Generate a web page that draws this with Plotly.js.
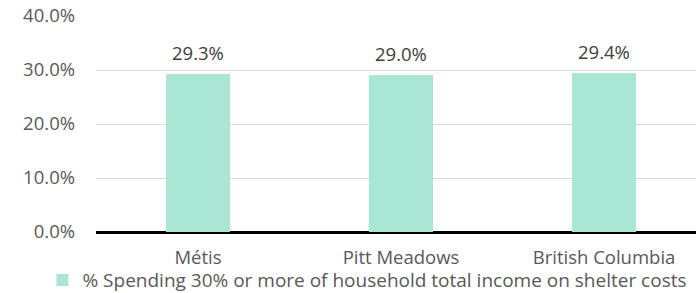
<!DOCTYPE html>
<html>
<head>
<meta charset="utf-8">
<script src="https://cdn.plot.ly/plotly-3.0.1.min.js"></script>
<style>html,body{margin:0;padding:0;background:#fff;}#chart{width:696px;height:293px;}</style>
</head>
<body>
<div id="chart"></div>
<script>
const categories = ["Métis", "Pitt Meadows", "British Columbia"];
const values = [29.3, 29.0, 29.4];
const seriesName = "% Spending 30% or more of household total income on shelter costs";
const yTickVals = [0, 10, 20, 30, 40];
const yTickText = ["0.0%", "10.0%", "20.0%", "30.0%", "40.0%"];

const fam = "'Open Sans', sans-serif";
const font = {family: fam, size: 18.5, color: "#595959"};

const trace = {
  type: "bar",
  x: [0, 1, 2],
  y: values,
  name: seriesName,
  width: 0.315,
  marker: {color: "#A9E6D3"},
  hoverinfo: "none"
};

const annotations = values.map((v, i) => ({
  x: i, y: v, xref: "x", yref: "y",
  text: v.toFixed(1) + "%",
  showarrow: false, yanchor: "bottom", yshift: 7,
  font: {family: fam, size: 18.5, color: "#404040"}
}));

const layout = {
  width: 696, height: 293,
  margin: {l: 96, r: 0, t: 16, b: 61},
  paper_bgcolor: "#fff", plot_bgcolor: "#fff",
  font: font,
  showlegend: true,
  legend: {orientation: "h", x: 0.061, xanchor: "left", xref: "container", y: 0.044, yref: "container", yanchor: "middle",
           bgcolor: "rgba(0,0,0,0)", font: {family: fam, size: 19, color: "#595959"}, itemwidth: 30, traceorder: "normal"},
  annotations: annotations,
  xaxis: {
    range: [-0.502, 2.453], tickvals: [0, 1, 2], ticktext: categories,
    showgrid: false, zeroline: false, showline: false, ticks: "", tickfont: font,
    ticklabelstandoff: 12,
    fixedrange: true
  },
  yaxis: {
    range: [0, 40], tickvals: yTickVals, ticktext: yTickText,
    showgrid: true, gridcolor: "#D9D9D9", gridwidth: 1,
    zeroline: true, zerolinecolor: "#000", zerolinewidth: 3,
    showline: false, ticks: "", tickfont: font, ticklabelstandoff: 20,
    fixedrange: true
  },
  bargap: 0
};

Plotly.newPlot("chart", [trace], layout, {displayModeBar: false, staticPlot: true});
</script>
</body>
</html>
